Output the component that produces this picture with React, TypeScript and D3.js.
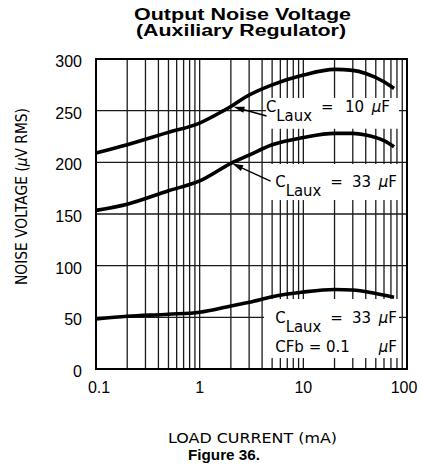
import React from "react";
import * as d3 from "d3";

// ---- data ----
const loadCurrent10 = [0.1, 0.2, 0.5, 1, 1.7, 2, 2.8, 5, 10, 20, 30, 40, 60, 75];
const noise10 = [209, 217, 229, 238, 250, 254, 263.5, 275, 284.5, 290, 289, 286, 278, 271.5];
const loadCurrent33 = [0.1, 0.2, 0.5, 1, 2, 3, 5, 10, 20, 30, 40, 60, 75];
const noise33 = [153.5, 159.5, 172.5, 182, 199, 207, 217, 224, 228, 228, 226.5, 221, 215];
const loadCurrentFb = [0.1, 0.2, 0.5, 1, 2, 3, 5, 10, 20, 30, 50, 75];
const noiseFb = [48.5, 51, 53, 55, 61, 64.5, 70, 74.5, 77, 76.5, 73, 69.5];
const yTicks = [0, 50, 100, 150, 200, 250, 300];
const xTicks = [0.1, 1, 10, 100];
const xTickLabels = ["0.1", "1", "10", "100"];
const gridCurrents = [
  0.2, 0.3, 0.4, 0.5, 0.6, 0.7, 0.8, 0.9, 1, 2, 3, 4, 5, 6, 7, 8, 9, 10, 20, 30, 40, 50, 60, 70, 80, 90,
];
const gridNoise = [50, 100, 150, 200, 250];

const W = 422;
const H = 464;
const x = d3.scaleLog().domain([0.1, 100]).range([96, 407]);
const y = d3.scaleLinear().domain([0, 300]).range([369, 59]);

const line = d3
  .line<[number, number]>()
  .x((d) => x(d[0]))
  .y((d) => y(d[1]))
  .curve(d3.curveMonotoneX);

const series = [
  { xs: loadCurrent10, ys: noise10 },
  { xs: loadCurrent33, ys: noise33 },
  { xs: loadCurrentFb, ys: noiseFb },
];

// white label boxes (in data units)
const boxes = [
  { x0: 4.36, x1: 83.7, y0: 232.5, y1: 262.3 },
  { x0: 4.36, x1: 83.7, y0: 163.5, y1: 198.4 },
  { x0: 4.18, x1: 83.7, y0: 10.6, y1: 67.7 },
];

// arrows: tail -> tip (data units)
const arrows = [
  { from: [4.42, 244.8], to: [2.12, 253.8] },
  { from: [4.83, 181.9], to: [2.06, 198.8] },
];

const mono = "'DejaVu Sans', 'Liberation Sans', sans-serif";
const sans = "'Liberation Sans', Arial, Helvetica, sans-serif";

function Arrow({ from, to }: { from: number[]; to: number[] }) {
  const x1 = x(from[0]);
  const y1 = y(from[1]);
  const x2 = x(to[0]);
  const y2 = y(to[1]);
  const ang = Math.atan2(y2 - y1, x2 - x1);
  const len = 11;
  const half = 3.2;
  const bx = x2 - len * Math.cos(ang);
  const by = y2 - len * Math.sin(ang);
  const p1 = [bx + half * Math.sin(ang), by - half * Math.cos(ang)];
  const p2 = [bx - half * Math.sin(ang), by + half * Math.cos(ang)];
  return (
    <g>
      <line x1={x1} y1={y1} x2={bx} y2={by} stroke="#000" strokeWidth={1.4} />
      <polygon points={`${x2},${y2} ${p1[0]},${p1[1]} ${p2[0]},${p2[1]}`} fill="#000" />
    </g>
  );
}

function CLabel({ xv, yv, value, endX }: { xv: number; yv: number; value: string; endX: number }) {
  const px = x(xv);
  const py = y(yv);
  return (
    <g fontFamily={mono} fontSize={15} fill="#000">
      <text x={px} y={py} textLength={46} lengthAdjust="spacingAndGlyphs">
        C
        <tspan dy={9}>Laux</tspan>
      </text>
      <text x={px + 55} y={py}>=</text>
      <text x={endX - 26} y={py} textAnchor="end">{value}</text>
      <text x={endX} y={py} textAnchor="end">
        <tspan fontStyle="italic">μ</tspan>F
      </text>
    </g>
  );
}

export default function App() {
  return (
    <svg
      width={W}
      height={H}
      viewBox={`0 0 ${W} ${H}`}
      style={{ position: "absolute", left: 0, top: 0, background: "#fff" }}
    >
      <rect x={0} y={0} width={W} height={H} fill="#fff" />
      {/* title */}
      <g fontFamily={sans} fontWeight="bold" fontSize={16} textAnchor="middle" fill="#000">
        <text x={242.5} y={19.5} textLength={217} lengthAdjust="spacingAndGlyphs">
          Output Noise Voltage
        </text>
        <text x={241} y={35.5} textLength={210} lengthAdjust="spacingAndGlyphs">
          (Auxiliary Regulator)
        </text>
      </g>

      {/* grid */}
      <g stroke="#1a1a1a" strokeWidth={1.3}>
        {gridCurrents.map((c) => (
          <line key={"v" + c} x1={x(c)} x2={x(c)} y1={y(0)} y2={y(300)} />
        ))}
        {gridNoise.map((n) => (
          <line key={"h" + n} x1={x(0.1)} x2={x(100)} y1={y(n)} y2={y(n)} />
        ))}
      </g>

      {/* label boxes */}
      {boxes.map((b, i) => (
        <rect
          key={i}
          x={x(b.x0)}
          y={y(b.y1)}
          width={x(b.x1) - x(b.x0)}
          height={y(b.y0) - y(b.y1)}
          fill="#fff"
        />
      ))}

      {/* frame */}
      <rect
        x={x(0.1)}
        y={y(300)}
        width={x(100) - x(0.1)}
        height={y(0) - y(300)}
        fill="none"
        stroke="#000"
        strokeWidth={2}
      />

      {/* curves */}
      {series.map((s, i) => (
        <path
          key={i}
          d={line(s.xs.map((v, j) => [v, s.ys[j]] as [number, number])) || ""}
          fill="none"
          stroke="#000"
          strokeWidth={3.6}
          strokeLinecap="butt"
        />
      ))}

      {/* arrows */}
      {arrows.map((a, i) => (
        <Arrow key={i} from={a.from} to={a.to} />
      ))}

      {/* annotations */}
      <CLabel xv={4.36} yv={248.7} value="10" endX={390} />
      <CLabel xv={5.36} yv={176.1} value="33" endX={397} />
      <CLabel xv={5.36} yv={44.5} value="33" endX={397} />
      <g fontFamily={mono} fontSize={15} fill="#000">
        <text x={x(5.36)} y={y(16.5)}>CFb = 0.1</text>
        <text x={397} y={y(16.5)} textAnchor="end">
          <tspan fontStyle="italic">μ</tspan>F
        </text>
      </g>

      {/* y tick labels */}
      <g fontFamily={sans} fontSize={16} fill="#000" textAnchor="end">
        {yTicks.map((t) => (
          <text key={t} x={82} y={y(t) + 8}>
            {t}
          </text>
        ))}
      </g>
      {/* x tick labels */}
      <g fontFamily={sans} fontSize={16} fill="#000" textAnchor="middle">
        {xTicks.map((t, i) => (
          <text key={t} x={x(t) + (i === 3 ? -3 : i === 0 ? 3 : 0)} y={393}>
            {xTickLabels[i]}
          </text>
        ))}
      </g>

      {/* axis titles */}
      <text
        transform="translate(26.5,196.5) rotate(-90)"
        textAnchor="middle"
        fontFamily={mono}
        fontSize={15}
        textLength={177}
        lengthAdjust="spacingAndGlyphs"
      >
        NOISE VOLTAGE (<tspan fontStyle="italic">μ</tspan>V RMS)
      </text>
      <text
        x={252.5}
        y={442.5}
        textAnchor="middle"
        fontFamily={mono}
        fontSize={14}
        textLength={169}
        lengthAdjust="spacingAndGlyphs"
      >
        LOAD CURRENT (mA)
      </text>
      <text
        x={224}
        y={459.5}
        textAnchor="middle"
        fontFamily={sans}
        fontWeight="bold"
        fontSize={15}
        textLength={72}
        lengthAdjust="spacingAndGlyphs"
      >
        Figure 36.
      </text>
    </svg>
  );
}
